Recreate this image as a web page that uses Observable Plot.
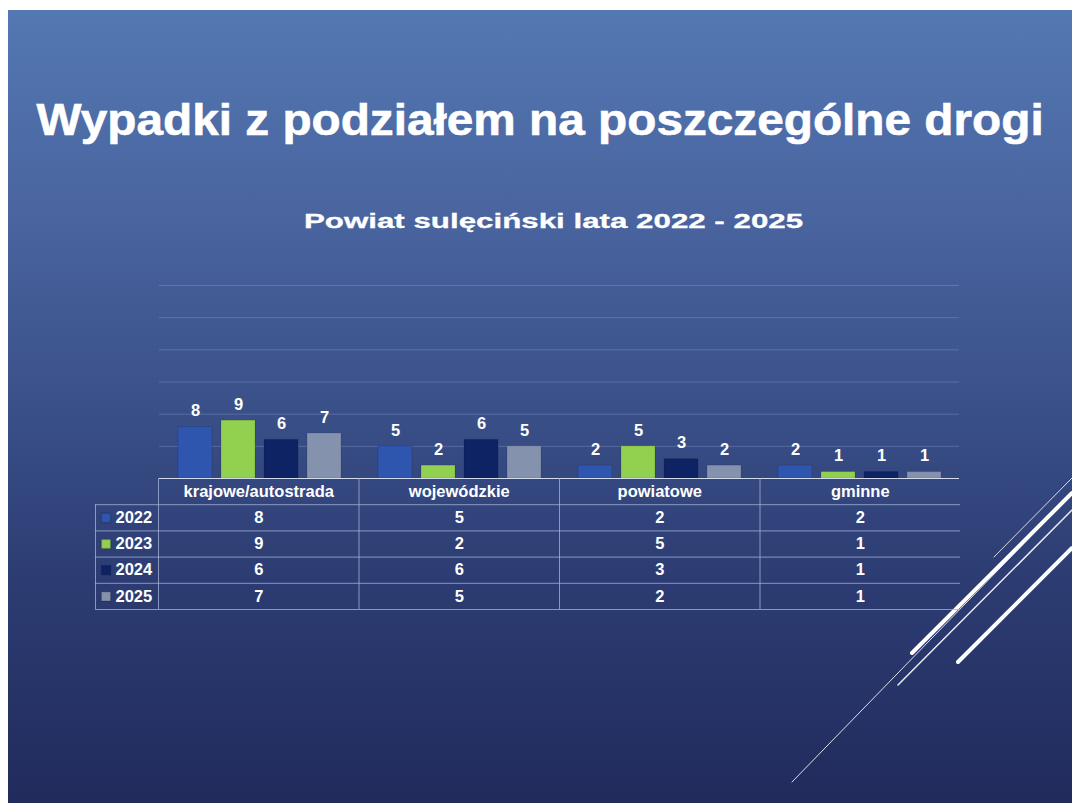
<!DOCTYPE html>
<html>
<head>
<meta charset="utf-8">
<script src="https://cdn.jsdelivr.net/npm/d3@7"></script>
<script src="https://cdn.jsdelivr.net/npm/@observablehq/plot@0.6"></script>
<style>
html,body{margin:0;padding:0;background:#fff;}
#page{position:relative;width:1072px;height:803px;overflow:hidden;font-family:"Liberation Sans",Arial,Helvetica,sans-serif;}
#slide{position:absolute;left:8px;top:10px;width:1064px;height:793px;
  background:linear-gradient(180deg,#5378b2 0%,#4a65a0 25%,#3a5089 50%,#2c3c72 72%,#212b5c 100%);}
#title{position:absolute;left:8px;top:98px;width:1064px;text-align:center;color:#fff;font-weight:bold;font-size:44px;line-height:44px;white-space:nowrap;}
#title span{display:inline-block;transform:scaleX(1.085);transform-origin:center;-webkit-text-stroke:0.6px #fff;}
#subtitle{position:absolute;left:54px;top:210px;width:1000px;text-align:center;color:#fff;font-weight:bold;font-size:21px;line-height:21px;white-space:nowrap;}
#subtitle span{display:inline-block;transform:scaleX(1.49);transform-origin:center;-webkit-text-stroke:0.3px #fff;}
#deco{position:absolute;left:0;top:0;}
#bars{position:absolute;left:0;top:0;}
#table{position:absolute;left:0;top:470px;}
svg{overflow:visible;}
</style>
</head>
<body>
<div id="page">
  <div id="slide"></div>
  <svg id="deco" width="1072" height="803">
    <g stroke="#ffffff" stroke-linecap="round" fill="none">
      <line x1="792" y1="782" x2="1072" y2="494" stroke-width="1" stroke-opacity="0.85"/>
      <line x1="912" y1="653" x2="1072" y2="493" stroke-width="4"/>
      <line x1="898" y1="685" x2="1072" y2="510" stroke-width="1.5" stroke-opacity="0.9"/>
      <line x1="958" y1="662" x2="1072" y2="548" stroke-width="4"/>
      <line x1="994" y1="557" x2="1072" y2="478" stroke-width="1" stroke-opacity="0.8"/>
    </g>
  </svg>
  <div id="title"><span>Wypadki z podziałem na poszczególne drogi</span></div>
  <div id="subtitle"><span>Powiat sulęciński lata 2022 - 2025</span></div>
  <div id="bars"></div>
  <div id="table"></div>
</div>
<script>
// ---- data ----
const categories = ["krajowe/autostrada", "wojewódzkie", "powiatowe", "gminne"];
const years = ["2022", "2023", "2024", "2025"];
const values2022 = [8, 5, 2, 2];
const values2023 = [9, 2, 5, 1];
const values2024 = [6, 6, 3, 1];
const values2025 = [7, 5, 2, 1];
const yTicks = [0, 5, 10, 15, 20, 25, 30];
const yearColors = ["#2f56ae", "#92d04f", "#0d2364", "#8592ae"];

const series = [values2022, values2023, values2024, values2025];
const data = [];
years.forEach((yr, i) => categories.forEach((cat, j) => data.push({year: yr, cat, value: series[i][j]})));

const font = '"Liberation Sans", Arial, Helvetica, sans-serif';
const color = {domain: years, range: yearColors};

// ---- bar chart ----
const bars = Plot.plot({
  width: 1072,
  height: 480,
  marginLeft: 158,
  marginRight: 112,
  marginTop: 285,
  marginBottom: 2,
  style: {background: "transparent", color: "white", fontFamily: font, overflow: "visible"},
  fx: {domain: categories, padding: 0, axis: null},
  x: {domain: years, paddingInner: 0.22, paddingOuter: 0.41, axis: null},
  y: {domain: [0, 30], axis: null},
  color,
  marks: [
    Plot.ruleY(yTicks.slice(1), {stroke: "#9fb2dc", strokeOpacity: 0.3, strokeWidth: 1}),
    Plot.barY(data, {fx: "cat", x: "year", y: "value", fill: "year", stroke: "#000", strokeOpacity: 0.12}),
    Plot.ruleY([0], {stroke: "#d3dbee", strokeWidth: 1.2}),
    Plot.text(data, {fx: "cat", x: "year", y: "value", text: d => String(d.value), dy: -16,
      fill: "white", fontWeight: "bold", fontSize: 16.5})
  ]
});
document.getElementById("bars").appendChild(bars);

// ---- data table ----
const nCols = categories.length;
const nRows = years.length + 1;
const legendW = 63 / 200.5; // legend column width in column units
const headerCells = categories.map((c, j) => ({c: j, r: 0, t: c}));
const valueCells = data.map(d => ({c: categories.indexOf(d.cat), r: years.indexOf(d.year) + 1, t: String(d.value)}));
const legendRows = years.map((y, i) => ({year: y, r: i + 1}));
const hLines = d3.range(1, nRows + 1).map(r => ({r, x1: -legendW, x2: nCols}));
const vLines = d3.range(0, nCols).map(c => ({c, y1: 0, y2: nRows}));

const table = Plot.plot({
  width: 1072,
  height: 145,
  marginLeft: 158,
  marginRight: 112,
  marginTop: 8,
  marginBottom: 6,
  style: {background: "transparent", color: "white", fontFamily: font, overflow: "visible"},
  x: {domain: [0, nCols], axis: null},
  y: {domain: [0, nRows], reverse: true, axis: null},
  color,
  marks: [
    Plot.ruleY(hLines, {y: "r", x1: "x1", x2: "x2", stroke: "#aab7da", strokeOpacity: 0.75}),
    Plot.ruleX(vLines, {x: "c", y1: "y1", y2: "y2", stroke: "#aab7da", strokeOpacity: 0.75}),
    Plot.ruleX([-legendW], {y1: 1, y2: nRows, stroke: "#aab7da", strokeOpacity: 0.75}),
    Plot.text(headerCells, {x: d => d.c + 0.5, y: d => d.r + 0.5, text: "t", fill: "white", fontWeight: "bold", fontSize: 16.5}),
    Plot.text(valueCells, {x: d => d.c + 0.5, y: d => d.r + 0.5, text: "t", fill: "white", fontWeight: "bold", fontSize: 16.5}),
    Plot.dot(legendRows, {x: -legendW, y: d => d.r + 0.5, dx: 10.5, symbol: "square", r: 5.2, fill: "year", stroke: "#000", strokeOpacity: 0.15}),
    Plot.text(legendRows, {x: -legendW, y: d => d.r + 0.5, dx: 20, text: "year", textAnchor: "start", fill: "white", fontWeight: "bold", fontSize: 16.5})
  ]
});
document.getElementById("table").appendChild(table);
</script>
</body>
</html>
